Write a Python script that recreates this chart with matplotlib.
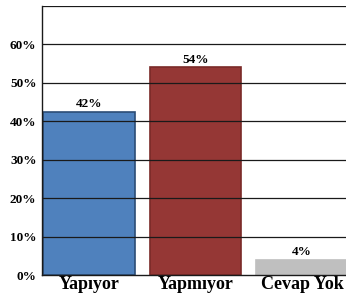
import numpy as np
from matplotlib import pyplot as plt
import matplotlib.transforms as mtransforms

# Veriler
categories = ['Yapıyor', 'Yapmıyor', 'Cevap Yok']
values = [42.5, 54, 4]
value_labels = ['42%', '54%', '4%']
yticks = [0, 10, 20, 30, 40, 50, 60]
ytick_labels = ['0%', '10%', '20%', '30%', '40%', '50%', '60%']

colors = ['#4f81bd', '#953735', '#bfbfbf']
edges = ['#2c4d75', '#7a2a28', '#bfbfbf']

plt.rcParams['font.family'] = ['Liberation Serif', 'DejaVu Serif']

fig = plt.figure(figsize=(3.46, 3.01), dpi=100)
# axes extends past the right edge like the original
ax = fig.add_axes([42/346, 26/301, 322/346, 269/301])

x = np.arange(len(categories))
ax.bar(x, values, width=0.86, color=colors, edgecolor=edges, linewidth=1.2, zorder=1)

ax.set_xlim(-0.44, 2.58)
ax.set_ylim(0, 70)

for yy in [10, 20, 30, 40, 50, 60, 70]:
    ax.axhline(yy, color='#1a1a1a', lw=0.9, zorder=3)

for xi, v, lab in zip(x, values, value_labels):
    ax.text(xi, v + 0.5, lab, ha='center', va='bottom', fontsize=9.5,
            fontweight='bold', zorder=4)

ax.set_yticks(yticks)
ax.set_yticklabels(ytick_labels, fontsize=9.5, fontweight='bold')
offset = mtransforms.ScaledTranslation(0, -6/100, fig.dpi_scale_trans)
for t in ax.get_yticklabels():
    t.set_transform(t.get_transform() + offset)
ax.tick_params(axis='y', length=0, pad=4)

ax.set_xticks(x)
ax.set_xticklabels(categories, fontsize=13, fontweight='bold')
ax.tick_params(axis='x', length=0, pad=1)

for s in ['top', 'right']:
    ax.spines[s].set_visible(False)
ax.spines['left'].set_color('#1a1a1a')
ax.spines['bottom'].set_color('#1a1a1a')
ax.spines['left'].set_linewidth(1.0)
ax.spines['bottom'].set_linewidth(1.0)

fig.savefig('out.png', dpi=100)
